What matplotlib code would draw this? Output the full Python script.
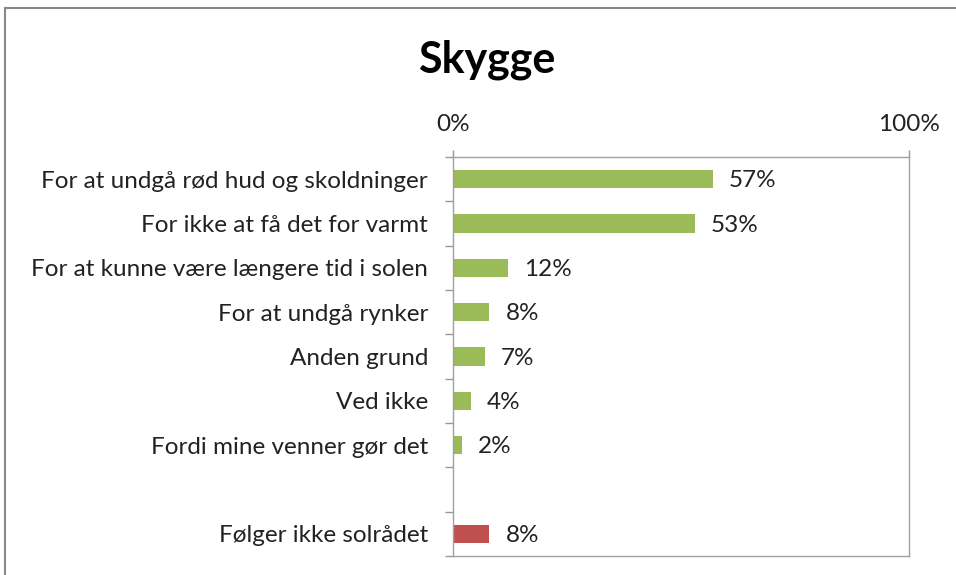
import numpy as np
import matplotlib.pyplot as plt
from matplotlib.lines import Line2D

categories = ['For at undgå rød hud og skoldninger', 'For ikke at få det for varmt',
              'For at kunne være længere tid i solen', 'For at undgå rynker',
              'Anden grund', 'Ved ikke', 'Fordi mine venner gør det', '',
              'Følger ikke solrådet']
values = [57, 53, 12, 8, 7, 4, 2, np.nan, 8]
colors = ['#9BBB59'] * 8 + ['#C0504D']

plt.rcParams['font.family'] = ['Lato', 'DejaVu Sans']

fig = plt.figure(figsize=(9.56, 5.75), dpi=100)
ax = fig.add_axes([453 / 956, 1 - 556 / 575, 456 / 956, 399 / 575])

y = np.arange(len(categories))
vals = np.nan_to_num(values)
ax.barh(y, vals, height=0.42, color=colors)
for yi, v in zip(y, values):
    if not np.isnan(v):
        ax.text(v + 3.5, yi + 0.04, f'{v:.0f}%', va='center', ha='left', fontsize=17.5, color='#222222')

ax.set_xlim(0, 100)
ax.set_ylim(len(categories) - 0.5, -0.5)
ax.xaxis.tick_top()
ax.set_xticks([0, 100])
ax.set_xticklabels(['0%', '100%'])
ax.set_yticks(y)
ax.set_yticklabels(categories)
ax.set_yticks(np.arange(-0.5, len(categories)), minor=True)
ax.tick_params(axis='y', which='major', length=0, pad=18, labelsize=17.5, labelcolor='#222222')
ax.tick_params(axis='y', which='minor', length=6, color='#999999', width=1)
ax.tick_params(axis='x', length=5, color='#999999', width=1, pad=11, labelsize=17.5, labelcolor='#222222')
for s in ax.spines.values():
    s.set_color('#a0a0a0')
    s.set_linewidth(1)

fig.text(487 / 956, 1 - 60 / 575, 'Skygge', ha='center', va='center', fontsize=31, fontweight='bold')

fig.add_artist(Line2D([5 / 956, 1], [1 - 8 / 575, 1 - 8 / 575], color='#888888', lw=1.5))
fig.add_artist(Line2D([5 / 956, 5 / 956], [0, 1 - 8 / 575], color='#888888', lw=1.5))

fig.savefig('out.png', dpi=100)
